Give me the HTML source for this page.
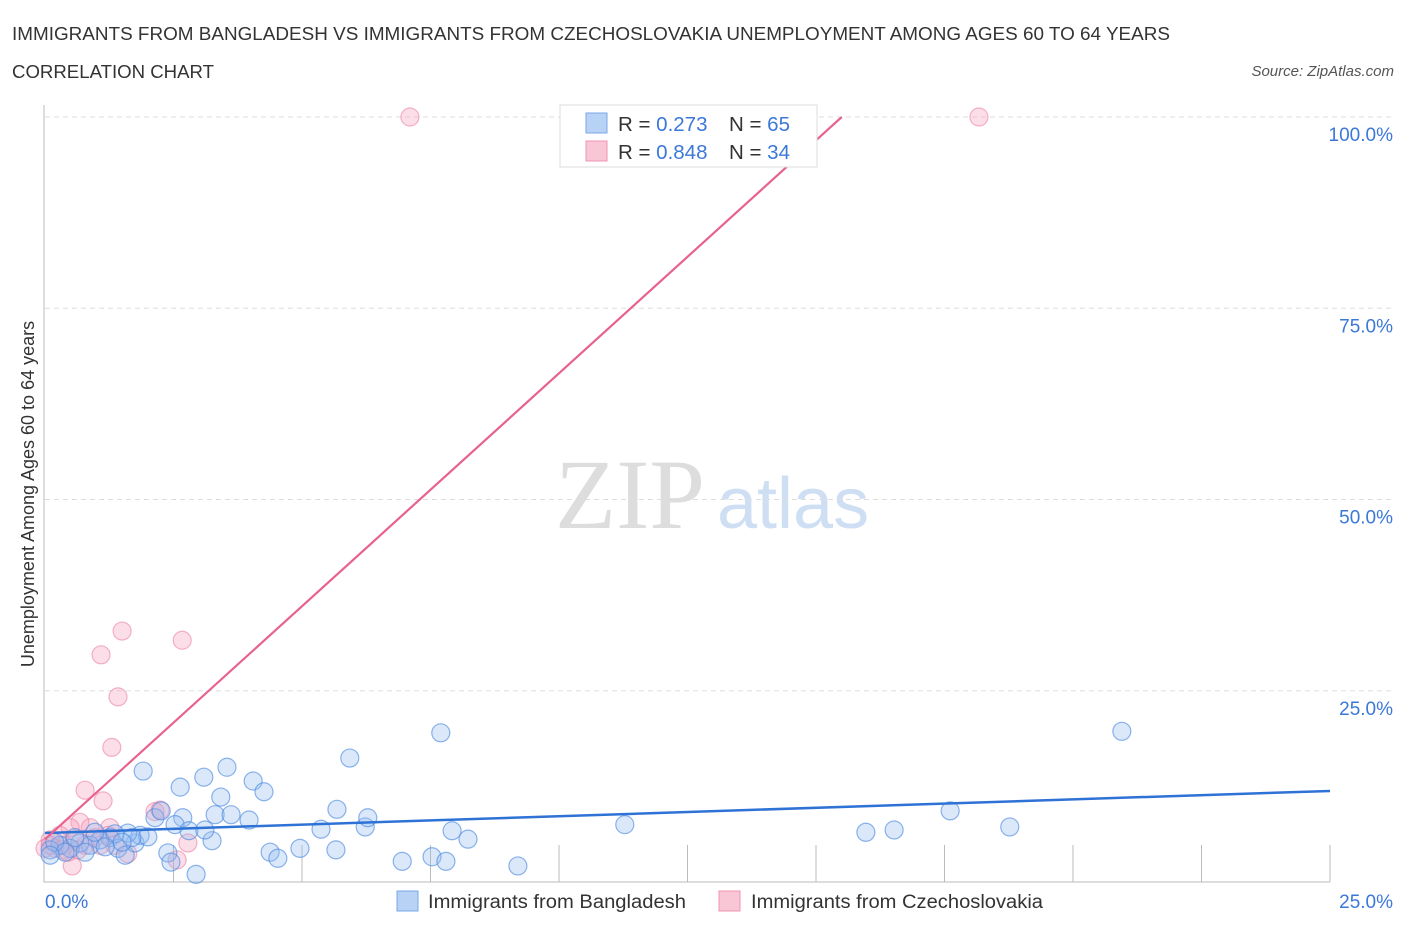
<!DOCTYPE html>
<html><head><meta charset="utf-8"><style>
body{margin:0;background:#fff;font-family:"Liberation Sans",sans-serif;}
svg text{font-family:"Liberation Sans",sans-serif;}
</style></head><body>
<svg id="chart" width="1406" height="930">
<text x="12" y="40" font-size="18" fill="#333" textLength="1158" lengthAdjust="spacingAndGlyphs">IMMIGRANTS FROM BANGLADESH VS IMMIGRANTS FROM CZECHOSLOVAKIA UNEMPLOYMENT AMONG AGES 60 TO 64 YEARS</text>
<text x="12" y="78" font-size="18" fill="#333" textLength="202" lengthAdjust="spacingAndGlyphs">CORRELATION CHART</text>
<text x="1394" y="76" font-size="15" fill="#555" font-style="italic" text-anchor="end">Source: ZipAtlas.com</text>
<text x="555" y="528" font-size="100" fill="#ddd" style="font-family:'Liberation Serif',serif">ZIP</text>
<text x="717" y="528" font-size="72" fill="#cfdff3">atlas</text>
<g id="grid"></g>
<g id="marks"></g>
<text transform="translate(34,494) rotate(-90)" font-size="18" fill="#333" text-anchor="middle">Unemployment Among Ages 60 to 64 years</text>
<g>
<rect x="560" y="105" width="257" height="62" fill="#fff" stroke="#ddd"/>
<rect x="586" y="113" width="21" height="20" fill="#b8d2f5" stroke="#7aa7e8"/>
<rect x="586" y="141" width="21" height="20" fill="#f9c6d5" stroke="#ee94b0"/>
<text x="618" y="131" font-size="20.5" fill="#333">R = <tspan fill="#3b78d8">0.273</tspan></text>
<text x="729" y="131" font-size="20.5" fill="#333">N = <tspan fill="#3b78d8">65</tspan></text>
<text x="618" y="159" font-size="20.5" fill="#333">R = <tspan fill="#3b78d8">0.848</tspan></text>
<text x="729" y="159" font-size="20.5" fill="#333">N = <tspan fill="#3b78d8">34</tspan></text>
</g>
<g>
<rect x="397" y="891" width="21" height="20" fill="#b8d2f5" stroke="#7aa7e8"/>
<text x="428" y="908" font-size="19" fill="#333" textLength="258" lengthAdjust="spacingAndGlyphs">Immigrants from Bangladesh</text>
<rect x="719" y="891" width="21" height="20" fill="#f9c6d5" stroke="#ee94b0"/>
<text x="751" y="908" font-size="19" fill="#333" textLength="292" lengthAdjust="spacingAndGlyphs">Immigrants from Czechoslovakia</text>
</g>
</svg>
<script>
const xTicks=[0,25];
const yTicks=[25,50,75,100];
const blueX=[1.91,2.63,3.09,3.54,3.42,4.05,4.26,3.31,3.62,3.97,2.14,2.26,2.68,2.53,2.80,3.25,3.11,2.39,2.45,2.94,4.38,4.53,4.96,5.66,5.37,5.68,6.23,6.28,5.93,7.70,6.95,7.53,7.80,7.92,8.23,9.20,11.28,15.97,16.52,17.61,18.77,20.95,1.26,1.42,1.56,1.75,1.85,1.61,1.07,0.88,0.68,0.49,0.29,0.10,0.19,0.58,0.97,1.36,2.00,0.39,0.78,1.17,1.69,1.50,0.10];
const blueY=[14.5,12.4,13.7,15.0,11.1,13.2,11.8,8.8,8.8,8.1,8.4,9.3,8.4,7.5,6.7,5.4,6.8,3.8,2.6,1.0,3.9,3.1,4.4,4.2,6.9,9.5,7.2,8.4,16.2,19.5,2.7,3.3,2.7,6.7,5.6,2.1,7.5,6.5,6.8,9.3,7.2,19.7,5.8,4.4,3.5,5.1,6.1,6.4,5.5,4.8,5.1,4.4,4.8,4.2,5.2,5.8,6.5,6.3,5.9,3.9,3.9,4.6,5.8,5.2,3.5];
const pinkX=[7.10,18.17,1.50,2.67,1.09,1.42,1.30,0.78,1.13,2.14,2.24,2.78,2.57,0.53,1.61,1.26,0.88,0.68,0.49,0.29,0.10,0.19,0.39,0.58,0.97,1.07,0.78,0,0.33,1.23,1.36,0.10,0.45,0.64];
const pinkY=[100,100,32.8,31.6,29.7,24.2,17.6,12.0,10.6,9.2,9.4,5.1,2.9,2.1,3.7,7.1,7.1,7.8,7.1,6.1,5.5,4.4,4.8,5.5,5.8,4.8,4.8,4.4,4.2,6.1,4.8,4.8,3.9,4.2];
const blueTrend=[6.4,11.9];
const pinkTrend=[5.6,6.09];
const X0=45,X1=1330,Y0=882,Y100=117;
const sx=v=>X0+v/25*(X1-X0);
const sy=v=>Y0-v/100*(Y0-Y100);
const NS='http://www.w3.org/2000/svg';
const grid=document.getElementById('grid'),marks=document.getElementById('marks');
function mk(tag,attrs,parent){const e=document.createElementNS(NS,tag);for(const k in attrs)e.setAttribute(k,attrs[k]);parent.appendChild(e);return e;}
yTicks.forEach(t=>{
 const l=mk('line',{x1:X0,x2:1394,y1:sy(t),y2:sy(t),stroke:'#ddd','stroke-dasharray':'5,4'},grid);
 
 
 const tx=mk('text',{x:1393,y:sy(t)+24,'font-size':19,fill:'#3b78d8','text-anchor':'end'},grid);
 tx.textContent=t.toFixed(1)+'%';
 
 
});
for(let i=1;i<=10;i++){
 const x=sx(i*2.5);
 const l=mk('line',{x1:x,x2:x,y1:Y0,y2:Y0-37,stroke:'#bbb'},grid);
 
 
}
const ax=mk('path',{d:`M${X0-1},105 V${Y0} H${X1}`,fill:'none',stroke:'#bbb'},grid);


xTicks.forEach((t,i)=>{
 const tx=mk('text',{x:i?1393:45,y:908,'font-size':19,fill:'#3b78d8','text-anchor':i?'end':'start'},grid);
 tx.textContent=t.toFixed(1)+'%';
 
 
});
pinkX.forEach((v,i)=>{
 const c=mk('circle',{cx:sx(v),cy:sy(pinkY[i]),r:9,fill:'rgba(245,160,190,0.35)',stroke:'rgba(235,130,165,0.6)','stroke-width':1.2},marks);
 
 
});
blueX.forEach((v,i)=>{
 const c=mk('circle',{cx:sx(v),cy:sy(blueY[i]),r:9,fill:'rgba(150,190,240,0.35)',stroke:'rgba(80,140,225,0.65)','stroke-width':1.2},marks);
 
 
});
const bl=mk('line',{x1:sx(0),y1:sy(blueTrend[0]),x2:sx(25),y2:sy(blueTrend[1]),stroke:'#2f72d6','stroke-width':2.5},marks);


const xEnd=(100-pinkTrend[0])/pinkTrend[1];
const pl=mk('line',{x1:sx(0),y1:sy(pinkTrend[0]),x2:sx(xEnd),y2:sy(100),stroke:'#e8628e','stroke-width':2.2},marks);


</script>
</body></html>
